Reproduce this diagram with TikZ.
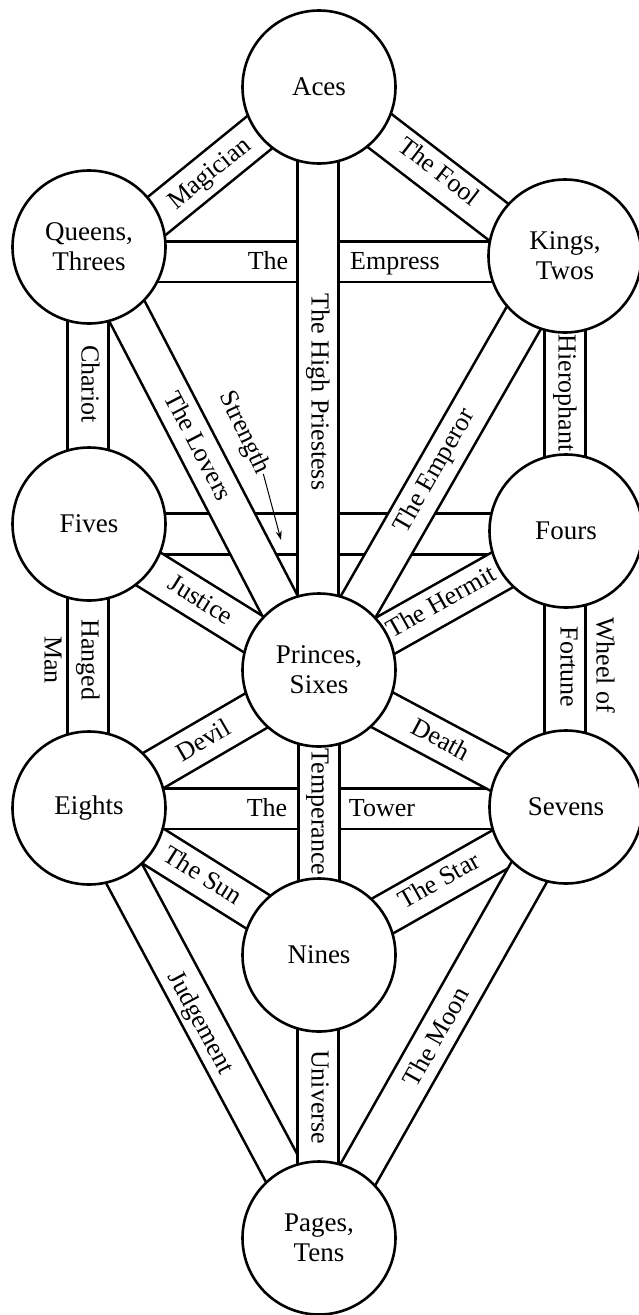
\documentclass[tikz,border=0pt]{standalone}
\usepackage{fontspec}
\setmainfont{Liberation Serif}
\usetikzlibrary{calc,arrows.meta}
\pgfdeclarelayer{paper}
\pgfdeclarelayer{bg}
\pgfsetlayers{paper,bg,main}
\begin{document}
\begin{tikzpicture}[x=1pt,y=-1pt,
  sph/.style={circle,draw,fill=white,line width=2.6pt,minimum size=153pt,inner sep=0pt,align=center,font=\fontsize{27}{30}\selectfont},
  band/.style={draw=black,double=white,double distance=38pt,line width=2.6pt},
  lbl/.style={inner sep=1pt,text height=18pt,text depth=5pt,font=\fontsize{26}{30}\selectfont}]
\begin{pgfonlayer}{paper}
\fill[white] (0,0) rectangle (639,1315);
\end{pgfonlayer}
\useasboundingbox (0,0) rectangle (639,1315);
% spheres
\node[sph] (A)  at (319,87)   {Aces};
\node[sph] (Q)  at (89,247)   {Queens,\\Threes};
\node[sph] (K)  at (565,256)  {Kings,\\Twos};
\node[sph] (Fv) at (89,524)   {Fives};
\node[sph] (Fr) at (566,531)  {Fours};
\node[sph] (P)  at (319,670)  {Princes,\\Sixes};
\node[sph] (Eg) at (89,808)   {Eights};
\node[sph] (Sv) at (566,807)  {Sevens};
\node[sph] (N)  at (319,955)  {Nines};
\node[sph] (T)  at (319,1238) {Pages,\\Tens};
% paths
\begin{pgfonlayer}{bg}
% horizontal paths first (they pass under the others)
\draw[band] ($(Q.center)+(0,14.5)$) -- ($(K.center)+(0,5.5)$);
\draw[band] ($(Fv.center)+(0,10)$) -- ($(Fr.center)+(0,3)$);
\draw[band] ($(Eg.center)+(0,0.5)$) -- ($(Sv.center)+(0,1.5)$);
% the others
\draw[band] ($(Q.center)+(0,24)$) -- ($(A.center)+(0,-3)$);
\draw[band] ($(A.center)+(0,-3)$) -- ($(K.center)+(0,17)$);
\draw[band] ($(A.center)+(-1,0)$) -- ($(P.center)+(-1,0)$);
\draw[band] ($(Q.center)+(-1,0)$) -- ($(Fv.center)+(-1,0)$);
\draw[band] ($(Q.center)+(0,-9)$) -- ($(P.center)+(0,11)$);
\draw[band] (K.center) -- ($(Fr.center)+(-1,0)$);
\draw[band] ($(P.center)+(0,5)$) -- ($(K.center)+(0,-10)$);
\draw[band] ($(Fv.center)+(0,8)$) -- ($(P.center)+(0,5)$);
\draw[band] ($(P.center)+(0,3)$) -- ($(Fr.center)+(0,3)$);
\draw[band] ($(Fv.center)+(-1,0)$) -- ($(Eg.center)+(-1,0)$);
\draw[band] ($(Fr.center)+(-1,0)$) -- ($(Sv.center)+(-1,0)$);
\draw[band] (Eg.center) -- ($(P.center)+(0,4)$);
\draw[band] ($(P.center)+(0,6)$) -- ($(Sv.center)+(0,1)$);
\draw[band] (P.center) -- (N.center);
\draw[band] ($(Eg.center)+(0,-2)$) -- ($(N.center)+(0,-5)$);
\draw[band] ($(N.center)+(0,-3)$) -- ($(Sv.center)+(0,5)$);
\draw[band] (Eg.center) -- (T.center);
\draw[band] (Sv.center) -- ($(T.center)+(3,0)$);
\draw[band] ($(N.center)+(-1,0)$) -- ($(T.center)+(-1,0)$);
\end{pgfonlayer}
% labels
\node[lbl,rotate=39.2]  (lMag) at (210,174) {Magician};
\node[lbl,rotate=-37.6] (lFool) at (438,173) {The Fool};
\node[lbl] (lEmp1) at (268,263) {The};
\node[lbl] (lEmp2) at (395,263) {Empress};
\node[lbl,rotate=-90] (lHP) at (318,392) {The High Priestess};
\node[lbl,rotate=-90] (lCha) at (88,384) {Chariot};
\node[lbl,rotate=-62.6] (lLov) at (197,447) {The Lovers};
\node[lbl,rotate=-64.7] (lStr) at (244,433) {Strength};
\coordinate (strtip) at (281,540);
\draw[-{Stealth[length=9pt,width=6pt]},line width=1pt] (lStr.east) -- (strtip);
\node[lbl,rotate=60.2] (lEmpr) at (435,471) {The Emperor};
\node[lbl,rotate=-90] (lHie) at (565,393) {Hierophant};
\node[lbl,rotate=-31.8] (lJus) at (200,601) {Justice};
\node[lbl,rotate=29.3] (lHer) at (442,603) {The Hermit};
\node[lbl,rotate=-90] (lHan) at (88,660) {Hanged};
\node[lbl,rotate=-90] (lMan) at (51,660) {Man};
\node[lbl,rotate=-90] (lWhe) at (603,665) {Wheel of};
\node[lbl,rotate=-90] (lFor) at (567,667) {Fortune};
\node[lbl,rotate=30.1] (lDev) at (204,742) {Devil};
\node[lbl,rotate=-28.1] (lDea) at (440,741) {Death};
\node[lbl,rotate=-90] (lTem) at (318,812) {Temperance};
\node[lbl] (lTow1) at (267,810) {The};
\node[lbl] (lTow2) at (382,810) {Tower};
\node[lbl,rotate=-32] (lSun) at (202,877) {The Sun};
\node[lbl,rotate=29.5] (lSta) at (440,882) {The Star};
\node[lbl,rotate=-61.9] (lJud) at (200,1023) {Judgement};
\node[lbl,rotate=60.7] (lMoo) at (438,1038) {The Moon};
\node[lbl,rotate=-90] (lUni) at (318,1097) {Universe};
\end{tikzpicture}
\end{document}
